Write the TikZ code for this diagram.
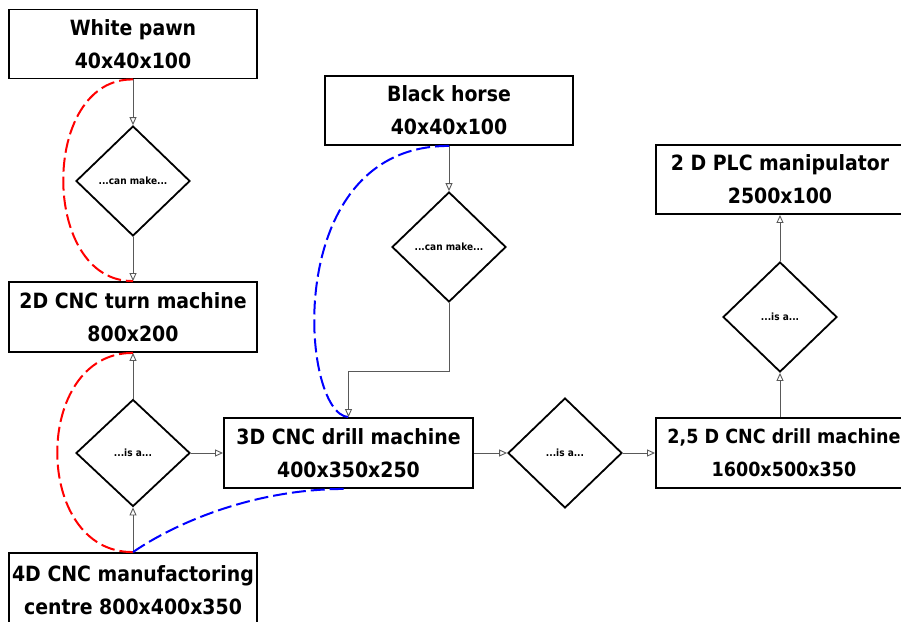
\documentclass[tikz,border=0pt]{standalone}
\usepackage{fontspec}
\setmainfont{DejaVu Sans Condensed}
\usetikzlibrary{shapes.geometric,arrows.meta}
\begin{document}
\begin{tikzpicture}[x=1pt,y=-1pt,
  box/.style={draw=black, line width=1.9pt, minimum width=248pt, minimum height=69pt,
    align=center, inner sep=0pt, font=\fontsize{21}{33}\selectfont\bfseries},
  dia/.style={diamond, draw=black, line width=1.8pt, minimum width=114pt, minimum height=110pt,
    inner sep=0pt, font=\fontsize{10}{12}\selectfont\bfseries},
  conn/.style={draw=black!65, line width=0.9pt, -{Triangle[open,length=8pt,width=7pt]}},
  rdash/.style={draw=red, line width=2pt, dash pattern=on 14pt off 5pt},
  bdash/.style={draw=blue, line width=2pt, dash pattern=on 14pt off 5pt}]
\useasboundingbox (0,0) rectangle (901,621);
% boxes
\node[box] (wp) at (133,44) {White pawn\\40x40x100};
\node[box, minimum height=70pt] (tm) at (133,317) {2D CNC turn machine\\800x200};
\node[box, minimum height=74pt] (mc) at (133,590) {\makebox[200pt]{4D CNC manufactoring}\\\makebox[200pt]{centre 800x400x350}};
\node[box, minimum height=70pt, minimum width=249pt] (dm) at (348.5,453) {3D CNC drill machine\\400x350x250};
\node[box] (bh) at (449,110.5) {Black horse\\40x40x100};
\node[box, minimum height=70pt] (d25) at (780,453) {};
\node[font=\fontsize{19.5}{33}\selectfont\bfseries, align=center, inner sep=0pt] (d25t) at (784,453) {2,5 D CNC drill machine\\1600x500x350};
\node[box] (plc) at (780,179.5) {2 D PLC manipulator\\2500x100};
% diamonds
\node[dia] (d1) at (133,181) {...can make...};
\node[dia, minimum height=107pt] (d2) at (133,453) {...is a...};
\node[dia] (d3) at (449,247) {...can make...};
\node[dia] (d4) at (565,453) {...is a...};
\node[dia] (d5) at (780,317) {...is a...};
% connectors
\draw[conn] (wp.south) -- (d1.north);
\draw[conn] (d1.south) -- (tm.north);
\draw[conn] (d2.north) -- (tm.south);
\draw[conn] (mc.north) -- (d2.south);
\draw[conn] (d2.east) -- (dm.west);
\draw[conn] (bh.south) -- (d3.north);
\draw[conn] (d3.south) -- ++(0,69) -| (dm.north);
\draw[conn] (dm.east) -- (d4.west);
\draw[conn] (d4.east) -- (d25.west);
\draw[conn] (d25.north) -- (d5.south);
\draw[conn] (d5.north) -- (plc.south);
% dashed curves
\draw[rdash] (wp.south) .. controls (40,78) and (40,282) .. (tm.north);
\draw[rdash] (tm.south) .. controls (32,352) and (32,553) .. (mc.north);
\draw[bdash] (bh.south) .. controls (280,145) and (300,415) .. (dm.north);
\draw[bdash] (mc.north) .. controls (180,520) and (260,488) .. (dm.south);
\end{tikzpicture}
\end{document}
